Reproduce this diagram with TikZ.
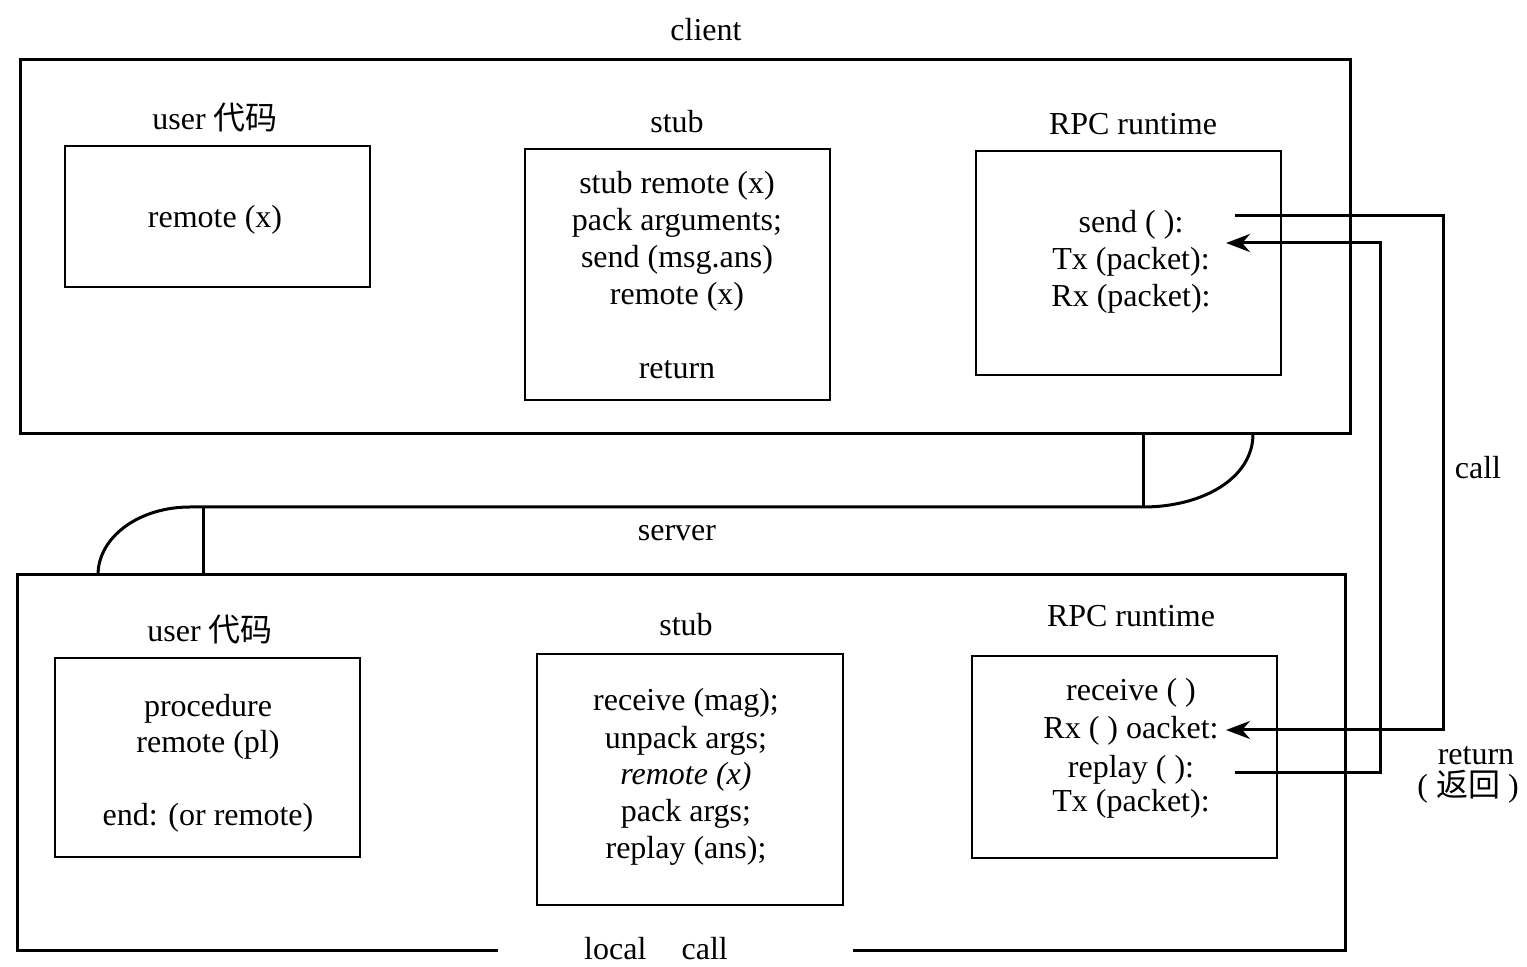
\documentclass[tikz,border=0pt]{standalone}
\usepackage{fontspec}
\setmainfont{Liberation Serif}
\newfontfamily\cjk{Noto Sans CJK SC}
\usetikzlibrary{arrows.meta,fit}
\begin{document}
\begin{tikzpicture}[x=0.5pt,y=-0.5pt,
  box/.style={draw, line width=1.3pt, inner sep=0pt},
  outerline/.style={line width=1.5pt},
  txt/.style={anchor=base, inner sep=0pt, yshift=-1.5pt, font=\fontsize{16}{18.5}\selectfont},
  conn/.style={line width=1.5pt},
  tipped/.style={-{Stealth[length=12pt,width=9pt]}}]
\useasboundingbox (0,0) rectangle (1527,967);

% ---------- client ----------
\node[txt] (clientlbl) at (706,38) {client};
\node[box, line width=1.5pt, fit={(20,60) (1350,434)}] (client) {};

\node[txt] (ucl) at (215,127) {user {\cjk 代码}};
\node[box, fit={(65,146) (370,287)}] (uc) {};
\node[txt] (uc1) at (215,225) {remote (x)};

\node[txt] (scl) at (677,130) {stub};
\node[box, fit={(525,149) (830,400)}] (sc) {};
\node[txt] (sc1) at (677,191) {stub remote (x)};
\node[txt] (sc2) at (677,228) {pack arguments;};
\node[txt] (sc3) at (677,265) {send (msg.ans)};
\node[txt] (sc4) at (677,302) {remote (x)};
\node[txt] (sc5) at (677,376) {return};

\node[txt] (rcl) at (1133,132) {RPC runtime};
\node[box, fit={(976,151) (1281,375)}] (rc) {};
\node[txt] (rc1) at (1131,230) {send ( ):};
\node[txt] (rc2) at (1131,267) {Tx (packet):};
\node[txt] (rc3) at (1131,304) {Rx (packet):};

% ---------- server ----------
\node[txt] (serverlbl) at (677,538) {server};
\coordinate (sGL) at (498,950);
\coordinate (sBL) at (17,950);
\coordinate (sTL) at (17,575);
\coordinate (sTR) at (1345,575);
\coordinate (sBR) at (1345,950);
\coordinate (sGR) at (853,950);
\draw[outerline] (sGL) -- (sBL) -- (sTL) -- (sTR) -- (sBR) -- (sGR);
\node[txt] (localcall) at (656,956) {local\hspace{1.1em}call};

\node[txt] (usl) at (210,639) {user {\cjk 代码}};
\node[box, fit={(55,658) (360,857)}] (us) {};
\node[txt] (us1) at (208,714) {procedure};
\node[txt] (us2) at (208,750) {remote (pl)};
\node[txt] (us3) at (208,823) {end: (or remote)};

\node[txt] (ssl) at (686,633) {stub};
\node[box, fit={(537,654) (843,905)}] (ss) {};
\node[txt] (ss1) at (686,708) {receive (mag);};
\node[txt] (ss2) at (686,745) {unpack args;};
\node[txt] (ss3) at (686,781) {\itshape remote (x)};
\node[txt] (ss4) at (686,818) {pack args;};
\node[txt] (ss5) at (686,855) {replay (ans);};

\node[txt] (rsl) at (1131,624) {RPC runtime};
\node[box, fit={(972,656) (1277,858)}] (rs) {};
\node[txt] (rs1) at (1131,698) {receive ( )};
\node[txt] (rs2) at (1131,736) {Rx ( ) oacket:};
\node[txt] (rs3) at (1131,774) {replay ( ):};
\node[txt] (rs4) at (1131,809) {Tx (packet):};

% ---------- cable between client and server ----------
\coordinate (kL0) at (98,575);
\coordinate (kL1) at (190,507);
\coordinate (kR0) at (1143,507);
\coordinate (kR1) at (1253,434);
\coordinate (vL0) at (203,507);
\coordinate (vL1) at (203,575);
\coordinate (vR0) at (1143,434);
\draw[conn] (kL0) .. controls (98,537) and (139,507) .. (kL1) -- (kR0)
  .. controls (1203,507) and (1253,478) .. (kR1);
\draw[conn] (vL0) -- (vL1);
\draw[conn] (vR0) -- (kR0);

% ---------- call / return ----------
\coordinate (callS) at (1235,216);
\coordinate (callA) at (1443,216);
\coordinate (callB) at (1443,730);
\coordinate (callE) at (1226,730);
\draw[conn, tipped] (callS) -- (callA) -- (callB) -- (callE);

\coordinate (retS) at (1235,773);
\coordinate (retA) at (1380,773);
\coordinate (retB) at (1380,243);
\coordinate (retE) at (1226,243);
\draw[conn, tipped] (retS) -- (retA) -- (retB) -- (retE);

\node[txt] (calllbl) at (1478,476) {call};
\node[txt] (retlbl) at (1476,762) {return};
\node[txt] (retlbl2) at (1468,794) {( {\cjk 返回} )};
\end{tikzpicture}
\end{document}
